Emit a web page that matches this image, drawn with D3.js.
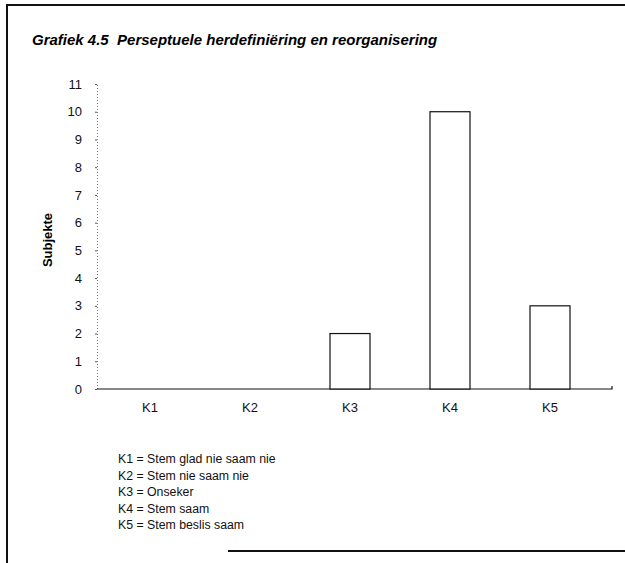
<!DOCTYPE html>
<html>
<head>
<meta charset="utf-8">
<script src="https://cdn.jsdelivr.net/npm/d3@7"></script>
<style>
body { margin: 0; background: #fff; }
svg { font-family: "Liberation Sans", Arial, sans-serif; }
.title { font-size: 15px; font-weight: bold; font-style: italic; white-space: pre; }
.tick text { font-size: 13px; fill: #111; }
.legend { font-size: 12.3px; fill: #111; }
</style>
</head>
<body>
<svg width="625" height="563"></svg>
<script>
var categories = ["K1", "K2", "K3", "K4", "K5"];
var values = [0, 0, 2, 10, 3];
var yTicks = [0, 1, 2, 3, 4, 5, 6, 7, 8, 9, 10, 11];
var legendLines = [
  "K1 = Stem glad nie saam nie",
  "K2 = Stem nie saam nie",
  "K3 = Onseker",
  "K4 = Stem saam",
  "K5 = Stem beslis saam"
];

var svg = d3.select("svg");

// frame lines (scanned page box)
svg.append("line").attr("x1", 6).attr("x2", 625).attr("y1", 5).attr("y2", 5)
  .attr("stroke", "#111").attr("stroke-width", 2);
svg.append("line").attr("x1", 7).attr("x2", 7).attr("y1", 5).attr("y2", 563)
  .attr("stroke", "#111").attr("stroke-width", 2);
svg.append("line").attr("x1", 228).attr("x2", 625).attr("y1", 551).attr("y2", 551)
  .attr("stroke", "#111").attr("stroke-width", 2);

svg.append("text")
  .attr("class", "title")
  .attr("x", 32)
  .attr("y", 45)
  .text("Grafiek 4.5  Perseptuele herdefiniëring en reorganisering");

var x0 = 97, y0 = 389;
var xScale = d3.scaleBand().domain(categories).range([100, 600]).paddingInner(0.6).paddingOuter(0.3);
var yScale = d3.scaleLinear().domain([0, 11]).range([y0, 84]);

var g = svg.append("g");

// y axis, dotted
var yAxis = g.append("g")
  .attr("transform", "translate(" + x0 + ",0)")
  .call(d3.axisLeft(yScale).tickValues(yTicks).tickSize(2).tickPadding(13));
yAxis.select(".domain").attr("stroke", "#777").attr("stroke-dasharray", "1,2");
yAxis.selectAll(".tick line").attr("stroke", "#555");
yAxis.selectAll(".tick text").attr("font-family", null).attr("font-size", null);

// x axis
var xAxis = g.append("g")
  .attr("transform", "translate(0," + y0 + ")")
  .call(d3.axisBottom(xScale).tickSize(0).tickPadding(14));
xAxis.select(".domain").remove();
xAxis.selectAll(".tick text").attr("font-family", null).attr("font-size", null);
g.append("path")
  .attr("d", "M" + x0 + "," + y0 + "H612V" + (y0 - 3))
  .attr("fill", "none")
  .attr("stroke", "#111")
  .attr("stroke-width", 1.2);

// bars
g.selectAll(".bar")
  .data(categories.map(function(c, i) { return {cat: c, val: values[i]}; }).filter(function(d) { return d.val > 0; }))
  .enter()
  .append("rect")
  .attr("class", "bar")
  .attr("x", function(d) { return xScale(d.cat); })
  .attr("y", function(d) { return yScale(d.val); })
  .attr("width", xScale.bandwidth())
  .attr("height", function(d) { return y0 - yScale(d.val); })
  .attr("fill", "#fff")
  .attr("stroke", "#111")
  .attr("stroke-width", 1.2);

svg.append("text")
  .attr("transform", "translate(52,240) rotate(-90)")
  .attr("text-anchor", "middle")
  .attr("font-size", "13px")
  .attr("font-weight", "bold")
  .text("Subjekte");

// legend
svg.selectAll(".legend")
  .data(legendLines)
  .enter()
  .append("text")
  .attr("class", "legend")
  .attr("x", 118)
  .attr("y", function(d, i) { return 463 + i * 16.5; })
  .text(function(d) { return d; });
</script>
</body>
</html>
